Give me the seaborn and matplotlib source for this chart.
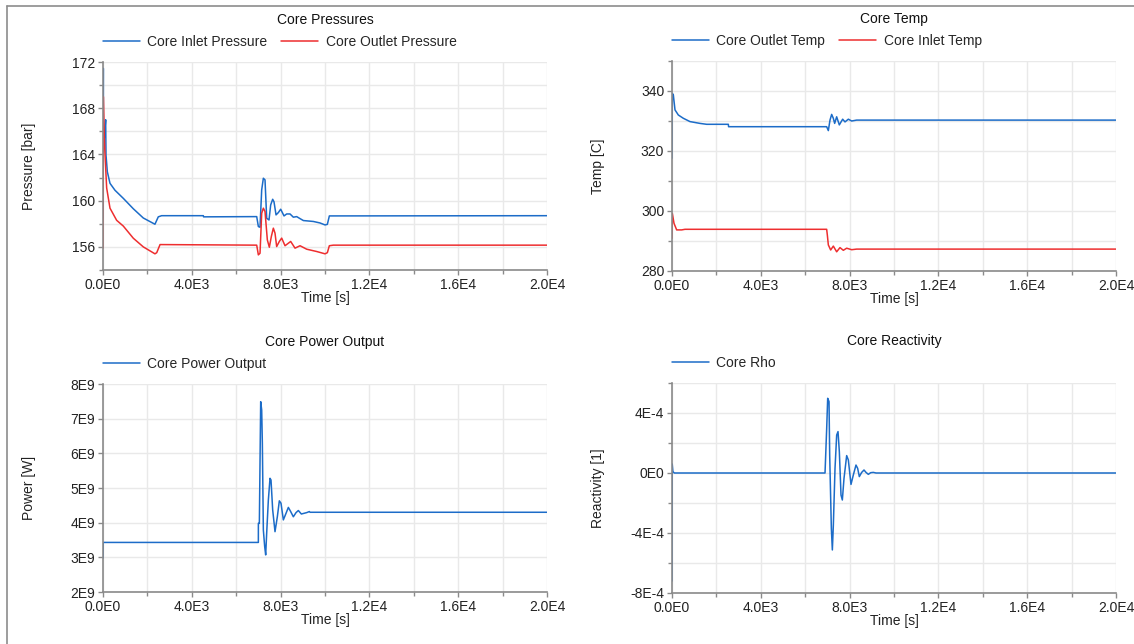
import matplotlib
matplotlib.use("Agg")
import matplotlib.pyplot as plt
import seaborn as sns
from matplotlib.lines import Line2D
from matplotlib.ticker import FixedLocator, MultipleLocator, NullLocator

# ---------------- data ----------------
# Core Pressures [bar]
p_in_t = [0, 15, 15, 60, 120, 135, 195, 315, 540, 915, 1365, 1815, 2340, 2490, 2640,
          4520, 4530, 6924, 6998, 7073, 7148, 7223, 7298, 7373, 7478, 7553, 7643, 7703,
          7794, 7899, 8004, 8154, 8274, 8424, 8574, 8725, 8845, 9025, 9475, 9775, 10001,
          10106, 10196, 20000]
p_in_v = [158.5, 171.45, 164.5, 165.5, 167.0, 163.96, 162.5, 161.5, 160.9, 160.2, 159.3,
          158.5, 157.96, 158.6, 158.7, 158.7, 158.6, 158.62, 157.76, 157.7, 160.93, 161.94,
          161.8, 158.48, 158.33, 159.63, 160.12, 159.9, 158.77, 158.97, 159.26, 158.68,
          158.85, 158.85, 158.57, 158.62, 158.48, 158.28, 158.2, 158.07, 157.9, 157.95,
          158.68, 158.7]

p_out_t = [0, 15, 60, 90, 165, 315, 615, 915, 1365, 1815, 2340, 2420, 2570, 6924, 6998,
           7073, 7148, 7223, 7298, 7403, 7493, 7583, 7673, 7748, 7823, 7943, 8049, 8199,
           8454, 8650, 8875, 9175, 9625, 10001, 10106, 10196, 10376, 20000]
p_out_v = [155.9, 169.0, 165.4, 164.0, 161.1, 159.35, 158.3, 157.8, 156.75, 156.0, 155.4,
           155.5, 156.2, 156.15, 155.31, 155.45, 158.91, 159.35, 159.06, 156.6, 155.97,
           156.9, 157.62, 157.19, 156.03, 156.47, 156.76, 156.1, 156.47, 155.89, 156.1,
           155.8, 155.6, 155.4, 155.5, 156.1, 156.15, 156.15]

# Core Temp [C]
t_out_t = [0, 15, 60, 135, 285, 511, 811, 1261, 1562, 2538, 2548, 6967, 7042, 7117, 7192,
           7267, 7327, 7417, 7537, 7687, 7793, 7943, 8093, 8318, 20000]
t_out_v = [317.6, 339.2, 338.7, 333.7, 332.0, 330.9, 329.8, 329.2, 328.9, 328.9, 328.1,
           328.1, 326.8, 330.3, 332.2, 330.9, 329.2, 331.4, 328.7, 330.6, 329.7, 330.6,
           330.0, 330.3, 330.3]

t_in_t = [0, 15, 90, 210, 435, 586, 6967, 6997, 7042, 7147, 7267, 7417, 7567, 7717,
          7868, 8093, 8318, 20000]
t_in_v = [290.9, 299.2, 295.9, 293.7, 293.7, 293.9, 293.9, 292.0, 288.7, 287.0, 288.3,
          286.4, 287.8, 286.9, 287.6, 287.1, 287.3, 287.3]

# Core Power Output [W]
pow_t = [0, 10, 6998, 6999, 7043, 7103, 7148, 7178, 7223, 7283, 7328, 7373, 7448, 7523,
         7568, 7643, 7748, 7853, 7943, 8018, 8124, 8244, 8349, 8454, 8574, 8695, 8800,
         8935, 9055, 9175, 9295, 9325, 20000]
pow_v = [2.98e9, 3.43e9, 3.43e9, 3.98e9, 3.98e9, 7.49e9, 7.25e9, 6.29e9, 3.79e9, 3.31e9,
         3.07e9, 3.70e9, 4.65e9, 5.28e9, 5.23e9, 4.37e9, 3.74e9, 4.17e9, 4.63e9, 4.56e9,
         4.08e9, 4.27e9, 4.44e9, 4.32e9, 4.17e9, 4.29e9, 4.35e9, 4.25e9, 4.27e9, 4.29e9,
         4.32e9, 4.30e9, 4.30e9]

# Core Reactivity [1]
rho_t = [0, 10, 40, 100, 6893, 6968, 7013, 7073, 7103, 7178, 7223, 7268, 7343, 7418,
         7478, 7538, 7613, 7673, 7748, 7868, 7943, 8063, 8168, 8288, 8363, 8438, 8544,
         8649, 8739, 8844, 8949, 9068, 9190, 20000]
rho_v = [-7.2e-4, 0.6e-4, 0.1e-4, 0.0, 0.0, 2.98e-4, 4.98e-4, 4.76e-4, 1.2e-4, -3.69e-4,
         -5.13e-4, -3.47e-4, 0.31e-4, 2.53e-4, 2.76e-4, 1.42e-4, -1.47e-4, -1.8e-4,
         -0.36e-4, 1.16e-4, 0.87e-4, -0.76e-4, -0.13e-4, 0.53e-4, 0.31e-4, -0.24e-4,
         0.04e-4, 0.2e-4, 0.04e-4, -0.09e-4, 0.02e-4, 0.04e-4, 0.0, 0.0]

# axis ticks / labels
x_ticks = [0, 4000, 8000, 12000, 16000, 20000]
x_labels = ["0.0E0", "4.0E3", "8.0E3", "1.2E4", "1.6E4", "2.0E4"]
p_ticks = [156, 160, 164, 168, 172]
p_labels = ["156", "160", "164", "168", "172"]
temp_ticks = [280, 300, 320, 340]
temp_labels = ["280", "300", "320", "340"]
pow_ticks = [2e9, 3e9, 4e9, 5e9, 6e9, 7e9, 8e9]
pow_labels = ["2E9", "3E9", "4E9", "5E9", "6E9", "7E9", "8E9"]
rho_ticks = [-8e-4, -4e-4, 0.0, 4e-4]
rho_labels = ["-8E-4", "-4E-4", "0E0", "4E-4"]

BLUE = "#1C6CC8"
RED = "#EE2E2F"

# ---------------- figure ----------------
sns.set_theme(style="white")
plt.rcParams["font.family"] = ["Liberation Sans", "DejaVu Sans"]

W, H = 1134, 644
fig = plt.figure(figsize=(W / 100, H / 100), dpi=100)


def axes_px(left, top, right, bottom):
    return fig.add_axes([left / W, 1 - bottom / H, (right - left) / W, (bottom - top) / H])


def style(ax, title, ylabel, ylim, yticks, ylabels, yminor, h_px):
    ax.set_xlim(0, 20000)
    ax.set_ylim(*ylim)
    ax.xaxis.set_major_locator(FixedLocator(x_ticks))
    ax.set_xticklabels(x_labels)
    ax.xaxis.set_minor_locator(MultipleLocator(2000))
    ax.yaxis.set_major_locator(FixedLocator(yticks))
    ax.set_yticklabels(ylabels)
    if yminor:
        ax.yaxis.set_minor_locator(MultipleLocator(yminor))
    else:
        ax.yaxis.set_minor_locator(NullLocator())
    ax.grid(True, which="both", color="#e9e9e9", lw=1.0)
    ax.set_axisbelow(True)
    for s in ["top", "right"]:
        ax.spines[s].set_visible(False)
    for s in ["left", "bottom"]:
        ax.spines[s].set_color("#8a8a8a")
        ax.spines[s].set_linewidth(1.2)
    ax.tick_params(which="major", direction="out", length=3.6, width=1.0, color="#8a8a8a",
                   labelsize=10, labelcolor="#222222", pad=2, left=True, bottom=True)
    ax.tick_params(which="minor", direction="out", length=2.8, width=1.0, color="#8a8a8a",
                   left=True, bottom=True)
    ax.set_xlabel("Time [s]", fontsize=10, color="#222222")
    ax.xaxis.set_label_coords(0.5, -21 / h_px)
    ax.set_ylabel(ylabel, fontsize=10, color="#222222")
    ax.yaxis.set_label_coords(-0.152, 0.5)
    ax.text(0.5, 1 + 42 / h_px, title, transform=ax.transAxes, ha="center", va="center",
            fontsize=10, color="#111111")
    ax.legend(loc="center left", bbox_to_anchor=(0, 1 + 20 / h_px), ncol=2, frameon=False,
              handlelength=2.65, handletextpad=0.55, columnspacing=1.0, borderpad=0,
              borderaxespad=0, fontsize=10)


ax1 = axes_px(103, 62, 547, 270)
ax2 = axes_px(672, 61, 1116, 271)
ax3 = axes_px(103, 384, 547, 592)
ax4 = axes_px(672, 383, 1116, 593)

lw = 1.1
sns.lineplot(x=p_in_t, y=p_in_v, ax=ax1, color=BLUE, lw=lw, estimator=None, sort=False,
             label="Core Inlet Pressure")
sns.lineplot(x=p_out_t, y=p_out_v, ax=ax1, color=RED, lw=lw, estimator=None, sort=False,
             label="Core Outlet Pressure")
style(ax1, "Core Pressures", "Pressure [bar]", (154, 172), p_ticks, p_labels, 2, 208)

sns.lineplot(x=t_out_t, y=t_out_v, ax=ax2, color=BLUE, lw=lw, estimator=None, sort=False,
             label="Core Outlet Temp")
sns.lineplot(x=t_in_t, y=t_in_v, ax=ax2, color=RED, lw=lw, estimator=None, sort=False,
             label="Core Inlet Temp")
style(ax2, "Core Temp", "Temp [C]", (280, 350), temp_ticks, temp_labels, 10, 210)

sns.lineplot(x=pow_t, y=pow_v, ax=ax3, color=BLUE, lw=lw, estimator=None, sort=False,
             label="Core Power Output")
style(ax3, "Core Power Output", "Power [W]", (2e9, 8e9), pow_ticks, pow_labels, None, 208)
ax3.yaxis.get_offset_text().set_visible(False)

sns.lineplot(x=rho_t, y=rho_v, ax=ax4, color=BLUE, lw=lw, estimator=None, sort=False,
             label="Core Rho")
style(ax4, "Core Reactivity", "Reactivity [1]", (-8e-4, 6e-4), rho_ticks, rho_labels, 2e-4, 210)

# outer frame lines (left and top)
fig.add_artist(Line2D([7 / W, 7 / W], [0, 1 - 6 / H], color="#8c8c8c", lw=1.2))
fig.add_artist(Line2D([7 / W, 1], [1 - 6 / H, 1 - 6 / H], color="#8c8c8c", lw=1.2))

fig.savefig("out.png", dpi=100)
